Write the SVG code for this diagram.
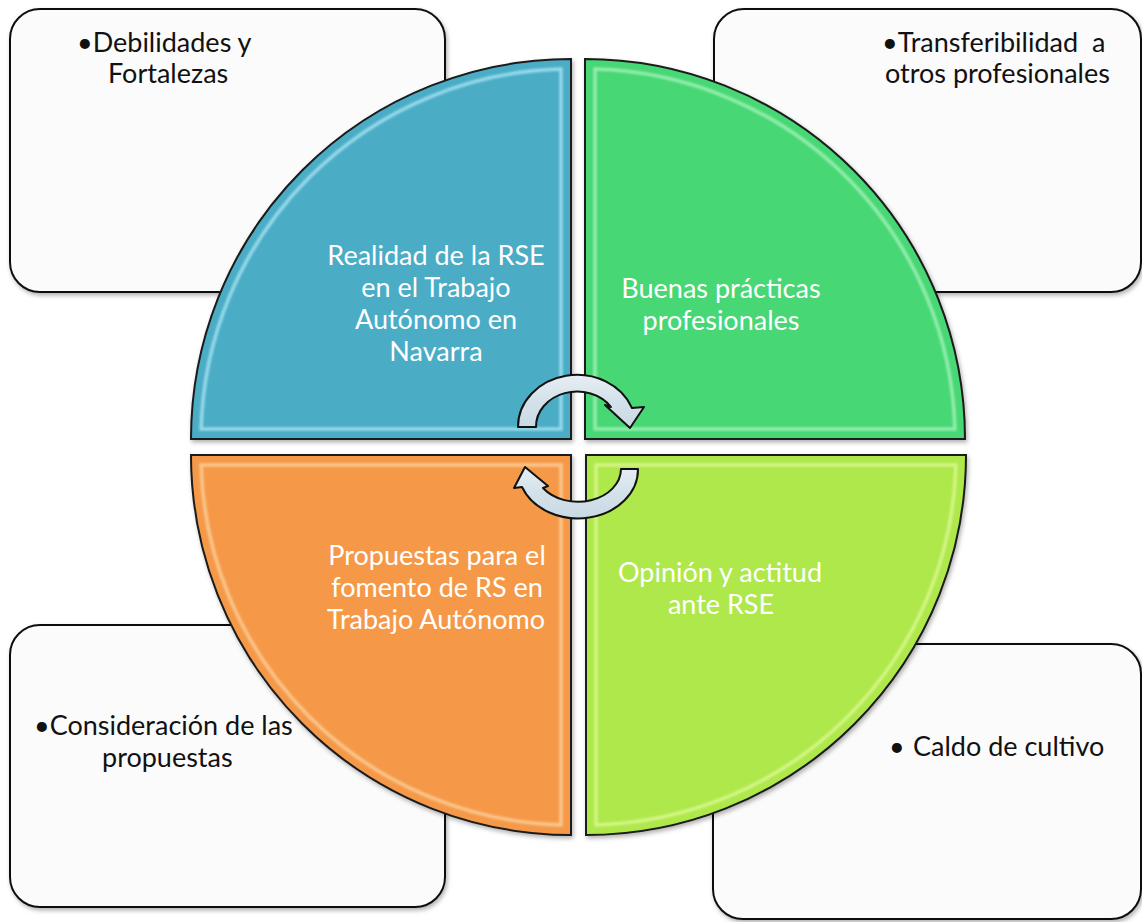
<svg xmlns="http://www.w3.org/2000/svg" width="1142" height="922" viewBox="0 0 1142 922">
<style>
.box{fill:#fbfbfb;stroke:#111;stroke-width:2}
.sec{stroke:#1a1a1a;stroke-width:2}
.bev{fill:none;stroke-width:3.5;opacity:.7}
.wt{font-family:Lato,"Liberation Sans",sans-serif;font-size:27px;fill:#ffffff;text-anchor:middle}
.bt{font-family:Lato,"Liberation Sans",sans-serif;font-size:27px;fill:#111111}
.arrow{fill:url(#ag);stroke:#111;stroke-width:2;stroke-linejoin:round}
</style>
<defs>
<filter id="sh" x="-10%" y="-10%" width="120%" height="120%">
<feDropShadow dx="1.5" dy="2.5" stdDeviation="2" flood-color="#000" flood-opacity="0.3"/>
</filter>
<filter id="bl" x="-5%" y="-5%" width="110%" height="110%">
<feGaussianBlur stdDeviation="1.2"/>
</filter>
<linearGradient id="ag" x1="0" y1="0" x2="0" y2="1">
<stop offset="0" stop-color="#e6eef3"/>
<stop offset="0.5" stop-color="#d3e1ea"/>
<stop offset="1" stop-color="#c9d9e3"/>
</linearGradient>
</defs>
<rect width="1142" height="922" fill="#ffffff"/>

<g id="box-tl"><rect class="box" x="10" y="9" width="435" height="283" rx="30" filter="url(#sh)"/>
<text class="bt" x="77" y="52">•Debilidades y</text>
<text class="bt" x="108" y="83">Fortalezas</text></g>
<g id="box-tr"><rect class="box" x="714" y="9" width="427" height="283" rx="30" filter="url(#sh)"/>
<text class="bt" x="882" y="52" style="white-space:pre">•Transferibilidad  a</text>
<text class="bt" x="885" y="83">otros profesionales</text></g>
<g id="box-bl"><rect class="box" x="10" y="625" width="435" height="282" rx="30" filter="url(#sh)"/>
<text class="bt" x="34" y="735">•Consideración de las</text>
<text class="bt" x="102" y="767">propuestas</text></g>
<g id="box-br"><rect class="box" x="713" y="644" width="428" height="275" rx="30" filter="url(#sh)"/>
<text class="bt" y="756"><tspan x="889">•</tspan><tspan x="913">Caldo de cultivo</tspan></text></g>

<g id="sector-tl">
<path class="sec" fill="#4bacc6" filter="url(#sh)" d="M571,439 L191,439 A380,380 0 0 1 571,59 Z"/>
<path class="bev" stroke="#b6eefa" filter="url(#bl)" d="M561,429 L201.1,429 A370,370 0 0 1 561,69.1 Z"/>
<text class="wt" x="436" y="265">Realidad de la RSE</text>
<text class="wt" x="436" y="297">en el Trabajo</text>
<text class="wt" x="436" y="329">Autónomo en</text>
<text class="wt" x="436" y="361">Navarra</text>
</g>
<g id="sector-tr">
<path class="sec" fill="#47d775" filter="url(#sh)" d="M585,439 L585,59 A380,380 0 0 1 965,439 Z"/>
<path class="bev" stroke="#b5f7c4" filter="url(#bl)" d="M595,429 L595,69.1 A370,370 0 0 1 954.9,429 Z"/>
<text class="wt" x="721" y="298">Buenas prácticas</text>
<text class="wt" x="721" y="330">profesionales</text>
</g>
<g id="sector-bl">
<path class="sec" fill="#f5994a" filter="url(#sh)" d="M571,455 L571,835 A380,380 0 0 1 191,455 Z"/>
<path class="bev" stroke="#fdd9a8" filter="url(#bl)" d="M561,465 L561,824.9 A370,370 0 0 1 201.1,465 Z"/>
<text class="wt" x="437" y="565">Propuestas para el</text>
<text class="wt" x="437" y="597">fomento de RS en</text>
<text class="wt" x="436" y="629">Trabajo Autónomo</text>
</g>
<g id="sector-br">
<path class="sec" fill="#aee84b" filter="url(#sh)" d="M586,455 L966,455 A380,380 0 0 1 586,835 Z"/>
<path class="bev" stroke="#e4fca0" filter="url(#bl)" d="M596,465 L955.9,465 A370,370 0 0 1 596,824.9 Z"/>
<text class="wt" x="720" y="582">Opinión y actitud</text>
<text class="wt" x="721" y="614">ante RSE</text>
</g>

<g id="connectors">
<path class="arrow" d="M518,427 A59,52 0 0 1 632,408 L644,407 L630,428 L605,405 L611,407 A41,35 0 0 0 536,427 Z"/>
<path class="arrow" d="M638,469 A60,49 0 0 1 522,487 L514,488 L525,467 L548,486 L543,488 A43,33 0 0 0 621,469 Z"/>
</g>
</svg>
